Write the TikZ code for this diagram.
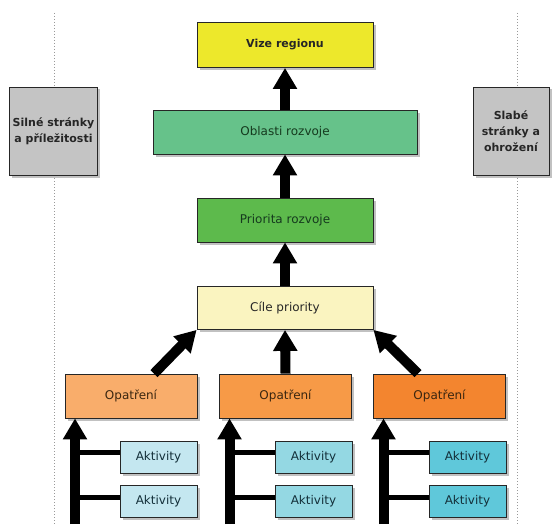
\documentclass[tikz,border=0pt]{standalone}
\usepackage{fontspec}
\setmainfont{DejaVu Sans}
\usepackage{xcolor}
\usepackage{tikz}
\usetikzlibrary{arrows.meta,shadows}

\definecolor{vizeY}{HTML}{EDE82B}
\definecolor{oblastG}{HTML}{66C28A}
\definecolor{prioG}{HTML}{5DBA4C}
\definecolor{cileY}{HTML}{FAF4C0}
\definecolor{opA}{HTML}{F9AD6B}
\definecolor{opB}{HTML}{F79A47}
\definecolor{opC}{HTML}{F3852F}
\definecolor{aktA}{HTML}{C4E7F0}
\definecolor{aktB}{HTML}{94D8E3}
\definecolor{aktC}{HTML}{5FC8DA}
\definecolor{swotG}{HTML}{C4C4C4}
\definecolor{txt}{HTML}{262626}
\definecolor{txtG}{HTML}{153A1E}
\definecolor{txtO}{HTML}{3A2610}
\definecolor{txtB}{HTML}{14303A}

\begin{document}
\begin{tikzpicture}[x=1pt, y=-1pt,
  box/.style      = {draw=black!85, line width=0.8pt, text=txt,
                     minimum width=176pt, minimum height=45pt,
                     align=center, inner sep=2pt,
                     font=\fontsize{12}{16}\selectfont,
                     drop shadow={shadow xshift=2.5pt, shadow yshift=-2.5pt,
                                  fill=black!30, opacity=0.8}},
  boldbox/.style  = {box, font=\fontsize{11}{16}\selectfont\bfseries},
  opbox/.style    = {box, text=txtO, minimum width=132pt, minimum height=44pt},
  aktbox/.style   = {box, text=txtB, minimum width=77pt, minimum height=32pt},
  swotbox/.style  = {boldbox, fill=swotG, minimum height=88pt},
  bigarr/.style   = {line width=10pt,
                     -{Triangle[width=23pt, length=21pt]}},
  branch/.style   = {line width=5pt},
  divider/.style  = {draw=black!40, line width=0.9pt,
                     dash pattern=on 1.2pt off 1.8pt},
]
\useasboundingbox (0,0) rectangle (553,524);

%% ── Dividers ─────────────────────────────────────────────────────────────────
\coordinate (dLt) at (54,13);  \coordinate (dLb) at (54,524);
\coordinate (dRt) at (517,13); \coordinate (dRb) at (517,524);
\draw[divider] (dLt) -- (dLb);
\draw[divider] (dRt) -- (dRb);

%% ── SWOT side boxes ──────────────────────────────────────────────────────────
\node[swotbox, minimum width=88pt] (silne) at (53.5,131)
  {Silné stránky\\a příležitosti};
\node[swotbox, minimum width=76pt] (slabe) at (511,131)
  {Slabé\\stránky a\\ohrožení};

%% ── Main column ──────────────────────────────────────────────────────────────
\node[boldbox, fill=vizeY] (vize) at (285,45) {Vize regionu};
\node[box, fill=oblastG, text=txtG, minimum width=264pt, minimum height=44pt]
  (oblasti) at (285,132) {Oblasti rozvoje};
\node[box, fill=prioG, text=txtG, minimum height=44pt] (priorita) at (285,220)
  {Priorita rozvoje};
\node[box, fill=cileY, minimum height=43pt] (cile) at (285,308)
  {Cíle priority};

\draw[bigarr] (oblasti.north) -- (vize.south);
\draw[bigarr] (priorita.north) -- (oblasti.south);
\draw[bigarr] (cile.north) -- (priorita.south);

%% ── Opatření ─────────────────────────────────────────────────────────────────
\node[opbox, fill=opA] (opA) at (131,396)   {Opatření};
\node[opbox, fill=opB] (opB) at (285.5,396) {Opatření};
\node[opbox, fill=opC] (opC) at (439.5,396) {Opatření};

\draw[bigarr] ([xshift=23pt]opA.north) -- (cile.south west);
\draw[bigarr] (opB.north) -- (cile.south);
\draw[bigarr] ([xshift=-21.5pt]opC.north) -- (cile.south east);

%% ── Aktivity ─────────────────────────────────────────────────────────────────
\node[aktbox, fill=aktA] (aA1) at (158.5,457) {Aktivity};
\node[aktbox, fill=aktA] (aA2) at (158.5,501) {Aktivity};
\node[aktbox, fill=aktB] (aB1) at (313.5,457) {Aktivity};
\node[aktbox, fill=aktB] (aB2) at (313.5,501) {Aktivity};
\node[aktbox, fill=aktC] (aC1) at (467.5,457) {Aktivity};
\node[aktbox, fill=aktC] (aC2) at (467.5,501) {Aktivity};

\coordinate (tA) at (75,524);
\coordinate (tB) at (229.5,524);
\coordinate (tC) at (383.5,524);

\foreach \col in {A,B,C}{
  \coordinate (b\col1) at ([yshift=5pt]a\col1.west);
  \coordinate (b\col2) at ([yshift=4pt]a\col2.west);
  \draw[bigarr] (t\col) -- (t\col |- op\col.south);
  \draw[branch] (t\col |- b\col1) -- (b\col1);
  \draw[branch] (t\col |- b\col2) -- (b\col2);
}

\end{tikzpicture}
\end{document}
